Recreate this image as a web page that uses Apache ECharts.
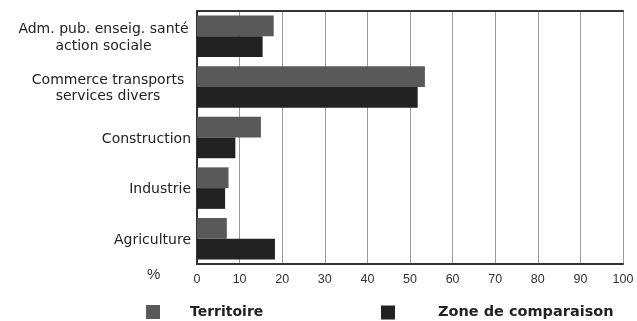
<!DOCTYPE html>
<html>
<head>
<meta charset="utf-8">
<script src="https://cdn.jsdelivr.net/npm/echarts@6/dist/echarts.min.js"></script>
<style>html,body{margin:0;padding:0;background:#fff}#c{width:637px;height:321px}</style>
</head>
<body>
<div id="c"></div>
<script>
const categories = ['Adm. pub. enseig. santé\naction sociale', 'Commerce transports\nservices divers', 'Construction', 'Industrie', 'Agriculture'];
const territoire = [18.0, 53.5, 15.0, 7.4, 7.0];
const comparaison = [15.4, 51.8, 9.0, 6.6, 18.3];
const xTicks = [0, 10, 20, 30, 40, 50, 60, 70, 80, 90, 100];
const seriesNames = ['Territoire', 'Zone de comparaison'];

const chart = echarts.init(document.getElementById('c'), null, {renderer: 'canvas'});
const font = 'Liberation Sans, Arial, sans-serif';
const catFont = 'DejaVu Sans, sans-serif';
const blockWidths = [175, 166];
const rich = {};
blockWidths.forEach((w, i) => {
  rich['b' + i] = {width: w, align: 'center', fontFamily: catFont, fontSize: 14, lineHeight: 16.5, color: '#222'};
});
chart.setOption({
  animation: false,
  backgroundColor: '#fff',
  grid: {left: 197, right: 14, top: 11, bottom: 57, containLabel: false},
  xAxis: [{
    type: 'value', min: xTicks[0], max: xTicks[xTicks.length - 1], interval: 10,
    axisLine: {show: true, lineStyle: {color: '#333', width: 2}},
    axisTick: {show: false},
    splitLine: {show: true, lineStyle: {color: '#999', width: 1}},
    axisLabel: {color: '#333', fontFamily: font, fontSize: 12.5, margin: 9}
  }, {
    type: 'value', position: 'top', min: 0, max: 100, interval: 10,
    axisLine: {show: true, onZero: false, lineStyle: {color: '#333', width: 2}},
    axisTick: {show: false}, axisLabel: {show: false}, splitLine: {show: false}
  }],
  yAxis: {
    type: 'category', data: categories, inverse: true,
    axisLine: {show: true, lineStyle: {color: '#333', width: 2}},
    axisTick: {show: false},
    axisLabel: {
      color: '#222', fontFamily: catFont, fontSize: 14, lineHeight: 16.5, margin: 6, align: 'right',
      padding: [3, 0, 0, 0],
      rich: rich,
      formatter: function (value, idx) {
        if (value.indexOf('\n') < 0) return value;
        return value.split('\n').map(l => '{b' + idx + '|' + l + '}').join('\n');
      }
    }
  },
  legend: [{
    data: [seriesNames[0]], left: 146, top: 305, itemWidth: 14, itemHeight: 14, itemGap: 0,
    icon: 'rect', padding: 0,
    textStyle: {fontFamily: 'DejaVu Sans, sans-serif', fontWeight: 'bold', fontSize: 14, color: '#222', padding: [0, 0, 0, 25]}
  }, {
    data: [seriesNames[1]], left: 381, top: 305, itemWidth: 14, itemHeight: 14, itemGap: 0,
    icon: 'rect', padding: 0,
    textStyle: {fontFamily: 'DejaVu Sans, sans-serif', fontWeight: 'bold', fontSize: 14.5, color: '#222', padding: [0, 0, 0, 38]}
  }],
  graphic: [{
    type: 'text', left: 147, top: 267,
    style: {text: '%', font: '15px ' + font, fill: '#333'}
  }],
  series: [{
    name: seriesNames[0], type: 'bar', data: territoire, barGap: 0, barCategoryGap: '18%',
    itemStyle: {color: '#595959'}
  }, {
    name: seriesNames[1], type: 'bar', data: comparaison, barGap: 0, barCategoryGap: '18%',
    itemStyle: {color: '#222222'}
  }]
});
</script>
</body>
</html>
